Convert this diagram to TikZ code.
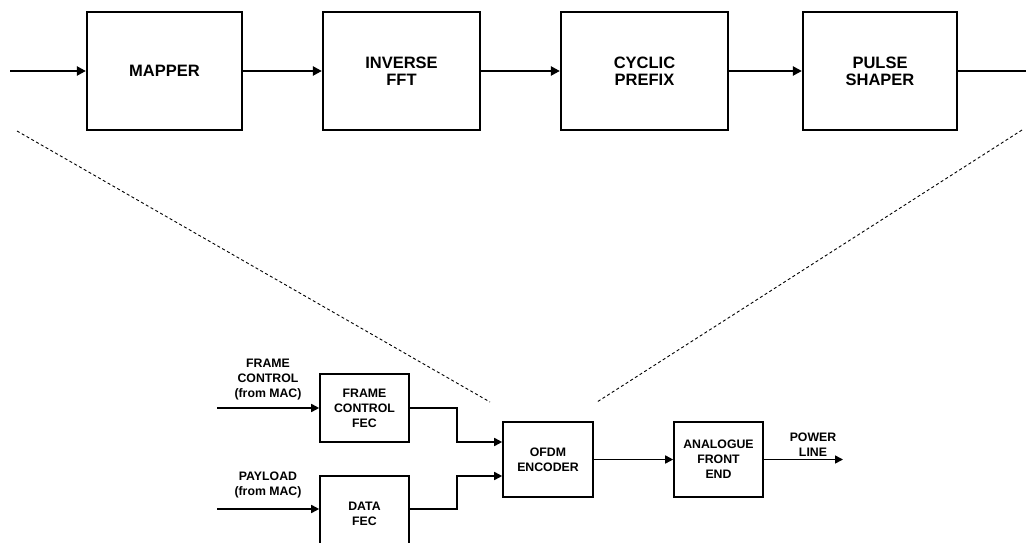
\documentclass[tikz,border=0pt]{standalone}
\usepackage{fontspec}
\setmainfont{Liberation Sans}
\usetikzlibrary{arrows.meta}
\tikzset{
  bigbox/.style={draw, line width=2.2pt, align=center, inner sep=0pt, font=\fontsize{16.5}{17}\selectfont\bfseries},
  smallbox/.style={draw, line width=1.6pt, align=center, inner sep=0pt, font=\fontsize{12.3}{15}\selectfont\bfseries},
  lbl/.style={align=center, inner sep=0pt, font=\fontsize{12.3}{15}\selectfont\bfseries},
  bigarr/.style={line width=2.2pt, -{Triangle[length=9pt,width=9pt]}},
  bigline/.style={line width=2.2pt},
  smallarr/.style={line width=1.6pt, -{Triangle[length=8pt,width=8pt]}},
  dline/.style={line width=0.9pt, dash pattern=on 3pt off 2.5pt},
}
\begin{document}
\begin{tikzpicture}[x=1pt,y=-1pt]
\useasboundingbox (0,0) rectangle (1026,543);
% top chain
\node[bigbox, minimum width=155pt, minimum height=118pt] (map) at (164.5,71) {MAPPER};
\node[bigbox, minimum width=157pt, minimum height=118pt] (ifft) at (401.5,71) {INVERSE\\FFT};
\node[bigbox, minimum width=167pt, minimum height=118pt] (cp) at (644.5,71) {CYCLIC\\PREFIX};
\node[bigbox, minimum width=154pt, minimum height=118pt] (ps) at (880,71) {PULSE\\SHAPER};
\coordinate (tin) at (10,71);
\coordinate (tout) at (1030,71);
\draw[bigarr] (tin) -- (map);
\draw[bigarr] (map) -- (ifft);
\draw[bigarr] (ifft) -- (cp);
\draw[bigarr] (cp) -- (ps);
\draw[bigline] (ps) -- (tout);
% dashed zoom lines
\coordinate (dl1) at (17,131);
\coordinate (dl2) at (490,402);
\coordinate (dr1) at (1022,130);
\coordinate (dr2) at (597,402);
\draw[dline] (dl1) -- (dl2);
\draw[dline] (dr1) -- (dr2);
% bottom
\node[smallbox, minimum width=89pt, minimum height=68pt] (fcf) at (364.5,408) {FRAME\\CONTROL\\FEC};
\node[smallbox, minimum width=89pt, minimum height=76pt] (dfec) at (364.5,514) {DATA\\FEC};
\node[smallbox, minimum width=90pt, minimum height=75pt] (ofdm) at (548,459.5) {OFDM\\ENCODER};
\node[smallbox, minimum width=89pt, minimum height=75pt] (afe) at (718.5,459.5) {ANALOGUE\\FRONT\\END};
\node[lbl] (lfc) at (268,380) {FRAME\\CONTROL\\(from MAC)};
\node[lbl] (lpl) at (268,484.5) {PAYLOAD\\(from MAC)};
\node[lbl] (lpw) at (813,444.5) {POWER\\LINE};
\coordinate (in1) at (217,408);
\coordinate (in2) at (217,509);
\coordinate (j1) at (457,442);
\coordinate (j2) at (457,476);
\coordinate (j3) at (457,509);
\coordinate (pout) at (843,459.5);
\draw[smallarr] (in1) -- (fcf);
\draw[smallarr] (in2) -- (in2 -| dfec.west);
\draw[smallarr] (fcf.east) -| (j1) -- (j1 -| ofdm.west);
\draw[smallarr] (dfec.east |- j3) -- (j3) -- (j2) -- (j2 -| ofdm.west);
\draw[smallarr] (ofdm) -- (afe);
\draw[smallarr] (afe) -- (pout);
\end{tikzpicture}
\end{document}
